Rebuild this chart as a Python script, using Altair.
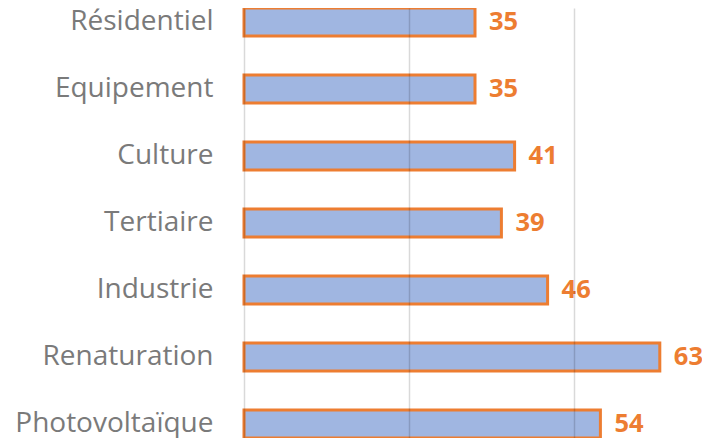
import altair as alt
import pandas as pd

categories = ["Résidentiel", "Equipement", "Culture", "Tertiaire", "Industrie", "Renaturation", "Photovoltaïque"]
values = [35, 35, 41, 39, 46, 63, 54]
grid_values = [0, 25, 50, 75]

df = pd.DataFrame({"cat": categories, "val": values})

PAD_LEFT = 236
W = 694 - PAD_LEFT
XMAX = W / 6.6

base = alt.Chart(df).encode(
    x=alt.X(
        "val:Q",
        scale=alt.Scale(domain=[0, XMAX], nice=False, zero=True),
        axis=alt.Axis(
            values=grid_values, labels=False, ticks=False, domain=False, title=None,
            grid=True, gridColor="black", gridOpacity=0.15, gridWidth=1.5, zindex=1,
        ),
    ),
    y=alt.Y(
        "cat:N",
        sort=categories,
        scale=alt.Scale(paddingInner=0.582, paddingOuter=0),
        axis=alt.Axis(
            title=None, ticks=False, domain=False, labelFont="Open Sans",
            labelFontSize=28, labelColor="#7a7a7a", labelPadding=31, labelLimit=400,
        ),
    ),
)

bars = base.mark_bar(fill="#a0b6e1", stroke="#ed7d31", strokeWidth=3)
text = base.mark_text(
    align="left", baseline="middle", dx=14, font="Open Sans",
    fontWeight="bold", fontSize=25.5, color="#ed7d31",
).encode(text="val:Q")

chart = (
    alt.layer(bars, text)
    .properties(
        width=W, height=430,
        autosize=alt.AutoSizeParams(type="none"),
        padding={"left": PAD_LEFT, "top": 0, "right": 0, "bottom": 0},
        background="white",
    )
    .configure_view(stroke=None)
)

chart.save("out.html", embed_options={"renderer": "svg", "actions": False})
